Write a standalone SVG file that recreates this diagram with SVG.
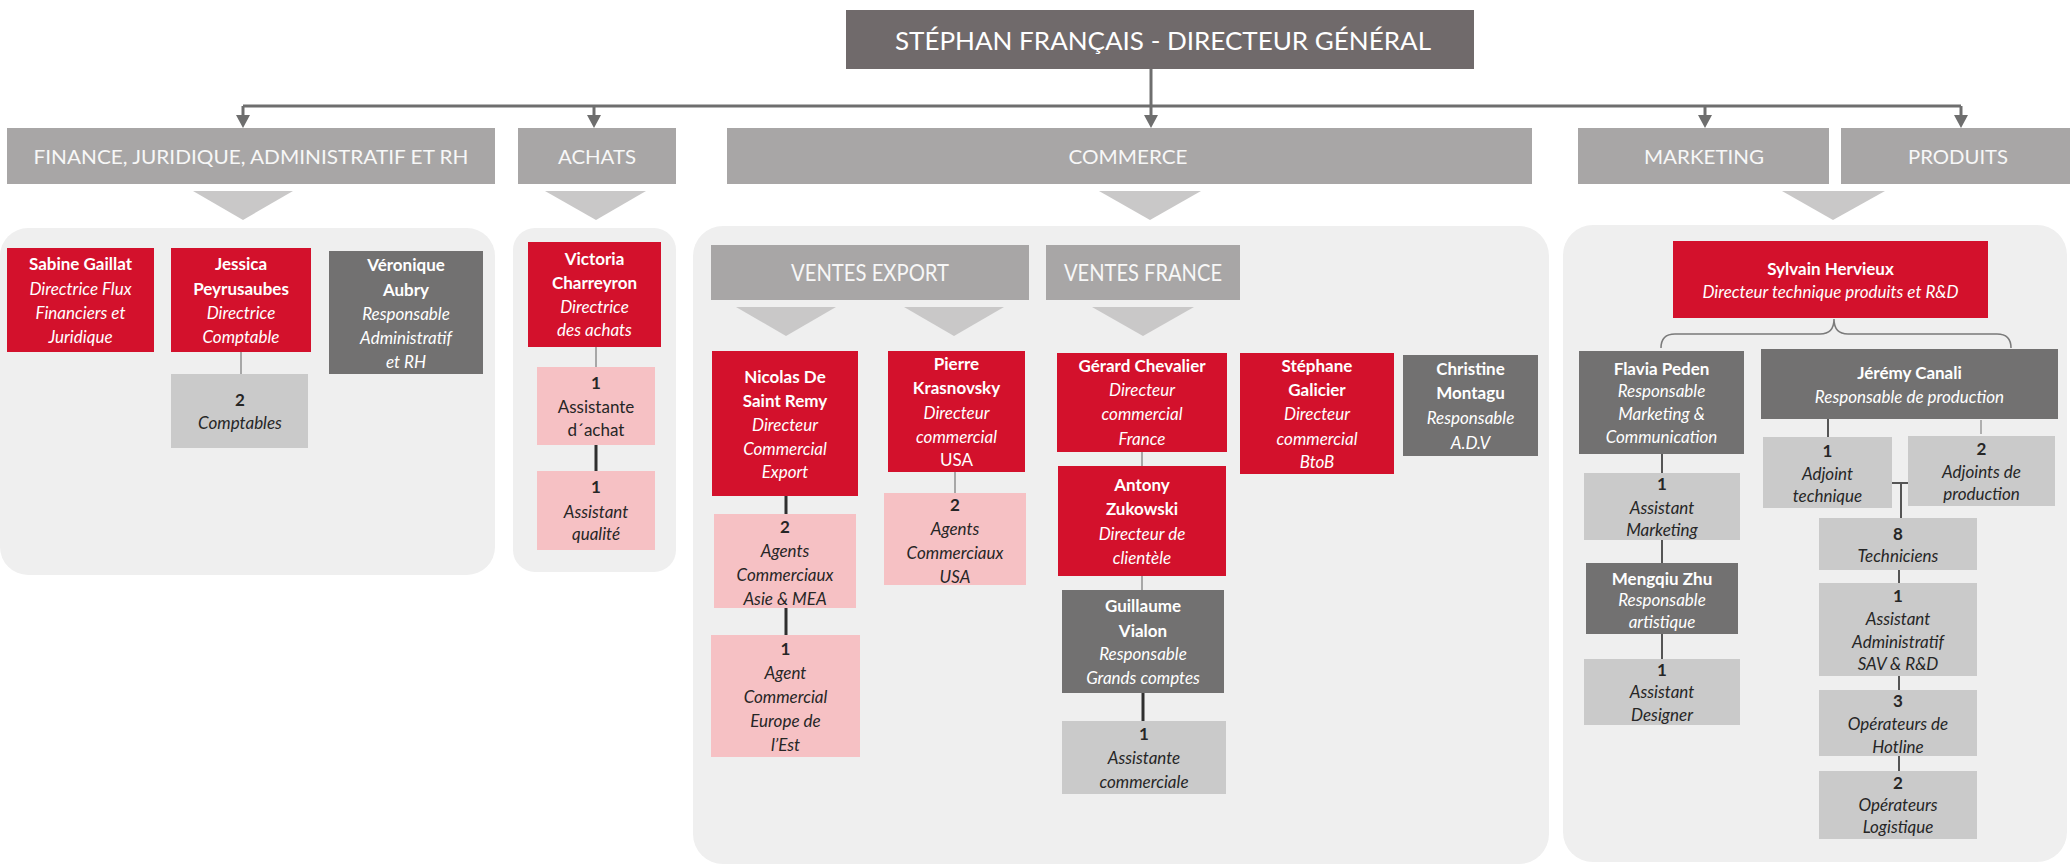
<svg xmlns="http://www.w3.org/2000/svg" width="2070" height="867" viewBox="0 0 2070 867">
  <style>
    text { font-family: Lato, "Open Sans", "DejaVu Sans", sans-serif; text-anchor: middle; }
    .bg { fill: #ffffff; }
    .panel { fill: #efefef; }
    .ceo { fill: #706a6b; }
    .hdr { fill: #a8a6a6; }
    .tri { fill: #c9c8c8; }
    .red { fill: #d3112c; }
    .dark { fill: #727171; }
    .light { fill: #cacaca; }
    .pink { fill: #f6c1c4; }
    .t-ceo { font-size: 25px; fill: #ffffff; }
    .t-hdr { font-size: 20px; fill: #f7f7f7; }
    .t-sub { font-size: 23px; fill: #f7f7f7; }
    .w { font-size: 17px; fill: #ffffff; }
    .k { font-size: 17px; fill: #262626; }
    .b { font-weight: 700; }
    .i { font-style: italic; }
    .main { fill: none; stroke: #6e6e6e; stroke-width: 3; }
    .thin { fill: none; stroke: #8f8f8f; stroke-width: 1.5; }
    .thick { fill: none; stroke: #2f2f2f; stroke-width: 3; }
    .mid { fill: none; stroke: #555555; stroke-width: 2; }
    .faint { fill: none; stroke: #9a9a9a; stroke-width: 1.5; }
    .brace { fill: none; stroke: #7a7a7a; stroke-width: 1.5; }
  </style>
  <defs>
    <marker id="arr" markerUnits="userSpaceOnUse" markerWidth="13" markerHeight="14" viewBox="0 0 13 14" refX="5" refY="7" orient="auto">
      <path d="M0,0 L13,7 L0,14 z" fill="#6e6e6e"/>
    </marker>
  </defs>

  <rect class="bg" x="0" y="0" width="2070" height="867"/>

  <!-- department panels -->
  <g id="panels">
    <rect class="panel" x="0" y="228" width="495" height="347" rx="28"/>
    <rect class="panel" x="513" y="228" width="163" height="344" rx="22"/>
    <rect class="panel" x="693" y="226" width="856" height="638" rx="30"/>
    <rect class="panel" x="1563" y="225" width="504" height="637" rx="30"/>
  </g>

  <!-- pointers under the department headers -->
  <g id="pointers">
    <polygon class="tri" points="193,191 293,191 243,220"/>
    <polygon class="tri" points="545,191 646,191 596,220"/>
    <polygon class="tri" points="1099,191 1201,191 1150,220"/>
    <polygon class="tri" points="1782,191 1885,191 1833,220"/>
    <polygon class="tri" points="736,307 836,307 786,336"/>
    <polygon class="tri" points="904,307 1004,307 954,336"/>
    <polygon class="tri" points="1092,307 1194,307 1143,336"/>
  </g>

  <!-- connectors -->
  <g id="connectors">
    <path class="main" d="M1151,69 V120" marker-end="url(#arr)"/>
    <path class="main" d="M243,106 H1961"/>
    <path class="main" d="M243,106 V120" marker-end="url(#arr)"/>
    <path class="main" d="M594,106 V120" marker-end="url(#arr)"/>
    <path class="main" d="M1705,106 V120" marker-end="url(#arr)"/>
    <path class="main" d="M1961,106 V120" marker-end="url(#arr)"/>

    <path class="thin" d="M241,352 V374"/>
    <path class="thin" d="M596,347 V367"/>
    <path class="thick" d="M596,445 V471"/>
    <path class="thick" d="M786,496 V514"/>
    <path class="thick" d="M786,608 V635"/>
    <path class="thin" d="M955,472 V493"/>
    <path class="thin" d="M1142,452 V466"/>
    <path class="thin" d="M1142,576 V590"/>
    <path class="thick" d="M1143,693 V721"/>

    <path class="brace" d="M1661,348 Q1661,334 1675,334 L1820,334 Q1834,334 1834,319 Q1834,334 1848,334 L1997,334 Q2011,334 2011,348"/>
    <path class="mid" d="M1662,454 V473 M1662,540 V563 M1662,634 V659"/>
    <path class="mid" d="M1828,419 V437"/>
    <path class="faint" d="M1981,420 V434"/>
    <path class="mid" d="M1892,483 H1908 M1901,483 V518"/>
    <path class="mid" d="M1899,570 V583 M1899,676 V690 M1899,756 V771"/>
  </g>

  <!-- general management -->
  <g id="ceo">
    <rect class="ceo" x="846" y="10" width="628" height="59"/>
    <text class="t-ceo" x="1163" y="50" textLength="536" lengthAdjust="spacingAndGlyphs">STÉPHAN FRANÇAIS - DIRECTEUR GÉNÉRAL</text>
  </g>

  <!-- department headers -->
  <g id="hdr-finance">
    <rect class="hdr" x="7" y="128" width="488" height="56"/>
    <text class="t-hdr" x="251" y="164" textLength="435" lengthAdjust="spacingAndGlyphs">FINANCE, JURIDIQUE, ADMINISTRATIF ET RH</text>
  </g>
  <g id="hdr-achats">
    <rect class="hdr" x="518" y="128" width="158" height="56"/>
    <text class="t-hdr" x="597" y="164" textLength="78" lengthAdjust="spacingAndGlyphs">ACHATS</text>
  </g>
  <g id="hdr-commerce">
    <rect class="hdr" x="727" y="128" width="805" height="56"/>
    <text class="t-hdr" x="1128" y="164" textLength="119" lengthAdjust="spacingAndGlyphs">COMMERCE</text>
  </g>
  <g id="hdr-marketing">
    <rect class="hdr" x="1578" y="128" width="251" height="56"/>
    <text class="t-hdr" x="1704" y="164" textLength="120" lengthAdjust="spacingAndGlyphs">MARKETING</text>
  </g>
  <g id="hdr-produits">
    <rect class="hdr" x="1841" y="128" width="229" height="56"/>
    <text class="t-hdr" x="1958" y="164" textLength="100" lengthAdjust="spacingAndGlyphs">PRODUITS</text>
  </g>
  <g id="hdr-ventes-export">
    <rect class="hdr" x="711" y="245" width="318" height="55"/>
    <text class="t-sub" x="870" y="281" textLength="158" lengthAdjust="spacingAndGlyphs">VENTES EXPORT</text>
  </g>
  <g id="hdr-ventes-france">
    <rect class="hdr" x="1046" y="245" width="194" height="55"/>
    <text class="t-sub" x="1143" y="281" textLength="158" lengthAdjust="spacingAndGlyphs">VENTES FRANCE</text>
  </g>

  <!-- finance, juridique, administratif et RH -->
  <g id="sabine-gaillat">
    <rect class="red" x="7" y="248" width="147" height="104"/>
    <text class="w"><tspan class="b" x="80.5" y="270">Sabine Gaillat</tspan><tspan class="i" x="80.5" y="295">Directrice Flux</tspan><tspan class="i" x="80.5" y="319">Financiers et</tspan><tspan class="i" x="80.5" y="343">Juridique</tspan></text>
  </g>
  <g id="jessica-peyrusaubes">
    <rect class="red" x="171" y="248" width="140" height="104"/>
    <text class="w"><tspan class="b" x="241" y="270">Jessica</tspan><tspan class="b" x="241" y="295">Peyrusaubes</tspan><tspan class="i" x="241" y="319">Directrice</tspan><tspan class="i" x="241" y="343">Comptable</tspan></text>
  </g>
  <g id="veronique-aubry">
    <rect class="dark" x="329" y="251" width="154" height="123"/>
    <text class="w"><tspan class="b" x="406" y="271">Véronique</tspan><tspan class="b" x="406" y="296">Aubry</tspan><tspan class="i" x="406" y="320">Responsable</tspan><tspan class="i" x="406" y="344">Administratif</tspan><tspan class="i" x="406" y="368">et RH</tspan></text>
  </g>
  <g id="comptables">
    <rect class="light" x="171" y="374" width="137" height="74"/>
    <text class="k"><tspan class="b" x="240" y="406">2</tspan><tspan class="i" x="240" y="429">Comptables</tspan></text>
  </g>

  <!-- achats -->
  <g id="victoria-charreyron">
    <rect class="red" x="528" y="242" width="133" height="105"/>
    <text class="w"><tspan class="b" x="594.5" y="265">Victoria</tspan><tspan class="b" x="594.5" y="289">Charreyron</tspan><tspan class="i" x="594.5" y="313">Directrice</tspan><tspan class="i" x="594.5" y="336">des achats</tspan></text>
  </g>
  <g id="assistante-achat">
    <rect class="pink" x="537" y="367" width="118" height="78"/>
    <text class="k"><tspan class="b" x="596" y="389">1</tspan><tspan x="596" y="413">Assistante</tspan><tspan x="596" y="436">d´achat</tspan></text>
  </g>
  <g id="assistant-qualite">
    <rect class="pink" x="537" y="471" width="118" height="79"/>
    <text class="k"><tspan class="b" x="596" y="493">1</tspan><tspan class="i" x="596" y="518">Assistant</tspan><tspan class="i" x="596" y="540">qualité</tspan></text>
  </g>

  <!-- commerce: ventes export -->
  <g id="nicolas-de-saint-remy">
    <rect class="red" x="712" y="351" width="146" height="145"/>
    <text class="w"><tspan class="b" x="785" y="383">Nicolas De</tspan><tspan class="b" x="785" y="407">Saint Remy</tspan><tspan class="i" x="785" y="431">Directeur</tspan><tspan class="i" x="785" y="455">Commercial</tspan><tspan class="i" x="785" y="478">Export</tspan></text>
  </g>
  <g id="agents-asie-mea">
    <rect class="pink" x="714" y="514" width="142" height="94"/>
    <text class="k"><tspan class="b" x="785" y="533">2</tspan><tspan class="i" x="785" y="557">Agents</tspan><tspan class="i" x="785" y="581">Commerciaux</tspan><tspan class="i" x="785" y="605">Asie &amp; MEA</tspan></text>
  </g>
  <g id="agent-europe-est">
    <rect class="pink" x="711" y="635" width="149" height="122"/>
    <text class="k"><tspan class="b" x="785.5" y="655">1</tspan><tspan class="i" x="785.5" y="679">Agent</tspan><tspan class="i" x="785.5" y="703">Commercial</tspan><tspan class="i" x="785.5" y="727">Europe de</tspan><tspan class="i" x="785.5" y="751">l’Est</tspan></text>
  </g>
  <g id="pierre-krasnovsky">
    <rect class="red" x="888" y="351" width="137" height="121"/>
    <text class="w"><tspan class="b" x="956.5" y="370">Pierre</tspan><tspan class="b" x="956.5" y="394">Krasnovsky</tspan><tspan class="i" x="956.5" y="419">Directeur</tspan><tspan class="i" x="956.5" y="443">commercial</tspan><tspan x="956.5" y="466">USA</tspan></text>
  </g>
  <g id="agents-usa">
    <rect class="pink" x="884" y="493" width="142" height="92"/>
    <text class="k"><tspan class="b" x="955" y="511">2</tspan><tspan class="i" x="955" y="535">Agents</tspan><tspan class="i" x="955" y="559">Commerciaux</tspan><tspan class="i" x="955" y="583">USA</tspan></text>
  </g>

  <!-- commerce: ventes France -->
  <g id="gerard-chevalier">
    <rect class="red" x="1057" y="353" width="170" height="99"/>
    <text class="w"><tspan class="b" x="1142" y="372">Gérard Chevalier</tspan><tspan class="i" x="1142" y="396">Directeur</tspan><tspan class="i" x="1142" y="420">commercial</tspan><tspan class="i" x="1142" y="445">France</tspan></text>
  </g>
  <g id="antony-zukowski">
    <rect class="red" x="1058" y="466" width="168" height="110"/>
    <text class="w"><tspan class="b" x="1142" y="491">Antony</tspan><tspan class="b" x="1142" y="515">Zukowski</tspan><tspan class="i" x="1142" y="540">Directeur de</tspan><tspan class="i" x="1142" y="564">clientèle</tspan></text>
  </g>
  <g id="guillaume-vialon">
    <rect class="dark" x="1062" y="590" width="162" height="103"/>
    <text class="w"><tspan class="b" x="1143" y="612">Guillaume</tspan><tspan class="b" x="1143" y="637">Vialon</tspan><tspan class="i" x="1143" y="660">Responsable</tspan><tspan class="i" x="1143" y="684">Grands comptes</tspan></text>
  </g>
  <g id="assistante-commerciale">
    <rect class="light" x="1062" y="721" width="164" height="73"/>
    <text class="k"><tspan class="b" x="1144" y="740">1</tspan><tspan class="i" x="1144" y="764">Assistante</tspan><tspan class="i" x="1144" y="788">commerciale</tspan></text>
  </g>
  <g id="stephane-galicier">
    <rect class="red" x="1240" y="353" width="154" height="121"/>
    <text class="w"><tspan class="b" x="1317" y="372">Stéphane</tspan><tspan class="b" x="1317" y="396">Galicier</tspan><tspan class="i" x="1317" y="420">Directeur</tspan><tspan class="i" x="1317" y="445">commercial</tspan><tspan class="i" x="1317" y="468">BtoB</tspan></text>
  </g>
  <g id="christine-montagu">
    <rect class="dark" x="1403" y="355" width="135" height="101"/>
    <text class="w"><tspan class="b" x="1470.5" y="375">Christine</tspan><tspan class="b" x="1470.5" y="399">Montagu</tspan><tspan class="i" x="1470.5" y="424">Responsable</tspan><tspan class="i" x="1470.5" y="449">A.D.V</tspan></text>
  </g>

  <!-- marketing et produits -->
  <g id="sylvain-hervieux">
    <rect class="red" x="1673" y="241" width="315" height="77"/>
    <text class="w"><tspan class="b" x="1830.5" y="275">Sylvain Hervieux</tspan><tspan class="i" x="1830.5" y="298">Directeur technique produits et R&amp;D</tspan></text>
  </g>
  <g id="flavia-peden">
    <rect class="dark" x="1579" y="351" width="165" height="103"/>
    <text class="w"><tspan class="b" x="1661.5" y="375">Flavia Peden</tspan><tspan class="i" x="1661.5" y="397">Responsable</tspan><tspan class="i" x="1661.5" y="420">Marketing &amp;</tspan><tspan class="i" x="1661.5" y="443">Communication</tspan></text>
  </g>
  <g id="assistant-marketing">
    <rect class="light" x="1584" y="473" width="156" height="67"/>
    <text class="k"><tspan class="b" x="1662" y="490">1</tspan><tspan class="i" x="1662" y="514">Assistant</tspan><tspan class="i" x="1662" y="536">Marketing</tspan></text>
  </g>
  <g id="mengqiu-zhu">
    <rect class="dark" x="1586" y="563" width="152" height="71"/>
    <text class="w"><tspan class="b" x="1662" y="585">Mengqiu Zhu</tspan><tspan class="i" x="1662" y="606">Responsable</tspan><tspan class="i" x="1662" y="628">artistique</tspan></text>
  </g>
  <g id="assistant-designer">
    <rect class="light" x="1584" y="659" width="156" height="66"/>
    <text class="k"><tspan class="b" x="1662" y="676">1</tspan><tspan class="i" x="1662" y="698">Assistant</tspan><tspan class="i" x="1662" y="721">Designer</tspan></text>
  </g>
  <g id="jeremy-canali">
    <rect class="dark" x="1761" y="349" width="297" height="70"/>
    <text class="w"><tspan class="b" x="1909.5" y="379">Jérémy Canali</tspan><tspan class="i" x="1909.5" y="403">Responsable de production</tspan></text>
  </g>
  <g id="adjoint-technique">
    <rect class="light" x="1763" y="437" width="129" height="71"/>
    <text class="k"><tspan class="b" x="1827.5" y="457">1</tspan><tspan class="i" x="1827.5" y="480">Adjoint</tspan><tspan class="i" x="1827.5" y="502">technique</tspan></text>
  </g>
  <g id="adjoints-production">
    <rect class="light" x="1908" y="436" width="147" height="70"/>
    <text class="k"><tspan class="b" x="1981.5" y="455">2</tspan><tspan class="i" x="1981.5" y="478">Adjoints de</tspan><tspan class="i" x="1981.5" y="500">production</tspan></text>
  </g>
  <g id="techniciens">
    <rect class="light" x="1819" y="518" width="158" height="52"/>
    <text class="k"><tspan class="b" x="1898" y="540">8</tspan><tspan class="i" x="1898" y="562">Techniciens</tspan></text>
  </g>
  <g id="assistant-administratif">
    <rect class="light" x="1819" y="583" width="158" height="93"/>
    <text class="k"><tspan class="b" x="1898" y="602">1</tspan><tspan class="i" x="1898" y="625">Assistant</tspan><tspan class="i" x="1898" y="648">Administratif</tspan><tspan class="i" x="1898" y="670">SAV &amp; R&amp;D</tspan></text>
  </g>
  <g id="operateurs-hotline">
    <rect class="light" x="1819" y="690" width="158" height="66"/>
    <text class="k"><tspan class="b" x="1898" y="707">3</tspan><tspan class="i" x="1898" y="730">Opérateurs de</tspan><tspan class="i" x="1898" y="753">Hotline</tspan></text>
  </g>
  <g id="operateurs-logistique">
    <rect class="light" x="1819" y="771" width="158" height="68"/>
    <text class="k"><tspan class="b" x="1898" y="789">2</tspan><tspan class="i" x="1898" y="811">Opérateurs</tspan><tspan class="i" x="1898" y="833">Logistique</tspan></text>
  </g>
</svg>
